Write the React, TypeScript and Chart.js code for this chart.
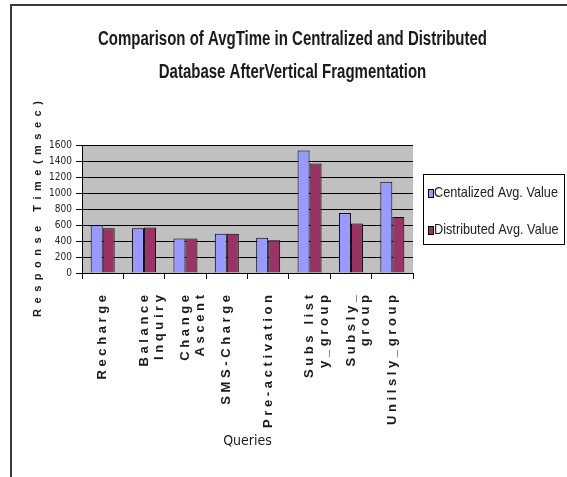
import React, { useEffect, useRef } from 'react';
import { Chart, registerables } from 'chart.js';
Chart.register(...registerables);

const titleLines = ['Comparison of AvgTime in Centralized and Distributed', 'Database AfterVertical Fragmentation'];
const categories: (string | string[])[] = [
  'Recharge',
  ['Balance', 'Inquiry'],
  ['Change', 'Ascent'],
  'SMS-Charge',
  'Pre-activation',
  ['Subs list', 'y_group'],
  ['Subsly_', 'group'],
  'Unilsly_group',
];
const centralized = [600, 560, 430, 490, 440, 1530, 750, 1140];
const distributed = [560, 570, 430, 490, 410, 1370, 620, 700];
const seriesNames = ['Centalized Avg. Value', 'Distributed Avg. Value'];
const seriesColors = ['#9999FF', '#993366'];
const yTicks = [0, 200, 400, 600, 800, 1000, 1200, 1400, 1600];
const yTitle = 'Response Time(msec)';
const xTitle = 'Queries';

const NARROW = "'Liberation Sans Narrow', 'DejaVu Sans Condensed', sans-serif";
const WIDE = "'Liberation Sans', Arial, sans-serif";

const spaced = (s: string, sep: string) => s.split('').join(sep);

// draw text squeezed horizontally (condensed look of the original)
function condensedText(ctx: CanvasRenderingContext2D, text: string, x: number, y: number, sx: number, align: 'left' | 'center') {
  ctx.save();
  ctx.translate(x, y);
  ctx.scale(sx, 1);
  ctx.textAlign = align;
  ctx.fillText(text, 0, 0);
  ctx.restore();
}

const framePlugin = {
  id: 'frame',
  beforeDraw(chart: any) {
    const { ctx, chartArea: a } = chart;
    ctx.save();
    ctx.fillStyle = '#ffffff';
    ctx.fillRect(0, 0, chart.width, chart.height);
    ctx.strokeStyle = '#3a3a3a';
    ctx.lineWidth = 2;
    ctx.beginPath();
    ctx.moveTo(11, chart.height);
    ctx.lineTo(11, 5);
    ctx.lineTo(chart.width, 5);
    ctx.stroke();
    ctx.fillStyle = '#c0c0c0';
    ctx.fillRect(a.left, a.top, a.right - a.left, a.bottom - a.top);
    ctx.restore();
  },
};

const titlePlugin = {
  id: 'condTitle',
  afterDraw(chart: any) {
    const { ctx } = chart;
    ctx.save();
    ctx.font = `bold 20px ${WIDE}`;
    ctx.fillStyle = '#1a1a1a';
    ctx.textBaseline = 'middle';
    const sx = 389 / ctx.measureText(titleLines[0]).width;
    const cx = (chart.width + 18) / 2;
    titleLines.forEach((line, i) => condensedText(ctx, line, cx, 39 + i * 33, sx, 'center'));
    ctx.restore();
  },
};

const legendPlugin = {
  id: 'boxLegend',
  afterDraw(chart: any) {
    const { ctx, chartArea: a } = chart;
    const x = a.right + 10;
    const w = 141;
    const h = 70;
    const y = (a.top + a.bottom) / 2 - h / 2;
    ctx.save();
    ctx.fillStyle = '#ffffff';
    ctx.fillRect(x, y, w, h);
    ctx.strokeStyle = '#000000';
    ctx.lineWidth = 1;
    ctx.strokeRect(x + 0.5, y + 0.5, w, h);
    ctx.font = `15px ${WIDE}`;
    ctx.textBaseline = 'middle';
    const sx = 124 / ctx.measureText(chart.data.datasets[0].label).width;
    chart.data.datasets.forEach((ds: any, i: number) => {
      const cy = y + 19 + i * 37;
      ctx.fillStyle = ds.backgroundColor;
      ctx.fillRect(x + 5, cy - 4, 5, 8);
      ctx.strokeStyle = '#000';
      ctx.strokeRect(x + 5.5, cy - 3.5, 5, 8);
      ctx.fillStyle = '#222222';
      condensedText(ctx, ds.label, x + 11, cy, sx, 'left');
    });
    ctx.restore();
  },
};

export default function App() {
  const ref = useRef<HTMLCanvasElement | null>(null);
  useEffect(() => {
    if (!ref.current) return;
    const chart = new Chart(ref.current, {
      type: 'bar',
      data: {
        labels: categories,
        datasets: [
          {
            label: seriesNames[0],
            data: centralized,
            backgroundColor: seriesColors[0],
            borderColor: '#000000',
            borderWidth: 1,
            categoryPercentage: 0.58,
            barPercentage: 1,
          },
          {
            label: seriesNames[1],
            data: distributed,
            backgroundColor: seriesColors[1],
            borderColor: '#000000',
            borderWidth: 1,
            categoryPercentage: 0.58,
            barPercentage: 1,
          },
        ],
      },
      options: {
        responsive: false,
        animation: false,
        layout: { padding: { left: 18, right: 0, top: 145, bottom: 24 } },
        plugins: {
          legend: { display: false },
          tooltip: { enabled: false },
          title: { display: false },
        },
        scales: {
          x: {
            grid: {
              offset: true,
              drawOnChartArea: false,
              color: '#000000',
              tickLength: 6,
            },
            border: { color: '#000000' },
            ticks: {
              minRotation: 90,
              maxRotation: 90,
              autoSkip: false,
              padding: 16,
              color: '#1a1a1a',
              font: { family: WIDE, size: 13, weight: 'bold', lineHeight: 1.15 },
              callback: function (this: any, _v: any, i: number) {
                const lab = categories[i];
                return Array.isArray(lab) ? lab.map((l) => spaced(l, ' ')) : spaced(lab, ' ');
              },
            },
            title: {
              display: true,
              text: xTitle,
              color: '#1a1a1a',
              font: { family: NARROW, size: 14 },
              padding: { top: 0, bottom: 3 },
            },
            afterFit: (s: any) => {
              s.height = 180;
            },
          },
          y: {
            min: 0,
            max: 1600,
            afterBuildTicks: (s: any) => {
              s.ticks = yTicks.map((v) => ({ value: v }));
            },
            grid: { color: '#000000', tickLength: 6 },
            border: { color: '#000000' },
            ticks: {
              autoSkip: false,
              padding: 4,
              color: '#222222',
              font: { family: NARROW, size: 10 },
              callback: (v: any) => String(v),
            },
            title: {
              display: true,
              text: spaced(yTitle, '\u2002'),
              color: '#1a1a1a',
              font: { family: WIDE, size: 11, weight: 'bold', lineHeight: 1.2 },
              padding: { top: 13, bottom: 0 },
            },
            afterFit: (s: any) => {
              s.width = 64;
            },
          },
          pad: {
            type: 'linear',
            position: 'right',
            display: true,
            grid: { display: false, drawTicks: false },
            border: { display: false },
            ticks: { display: false },
            afterFit: (s: any) => {
              s.width = 154;
            },
          },
        },
      } as any,
      plugins: [framePlugin, titlePlugin, legendPlugin],
    });
    return () => chart.destroy();
  }, []);
  return (
    <div style={{ position: 'absolute', left: 0, top: 0, width: 567, height: 477 }}>
      <canvas ref={ref} width={567} height={477} style={{ display: 'block' }} />
    </div>
  );
}
